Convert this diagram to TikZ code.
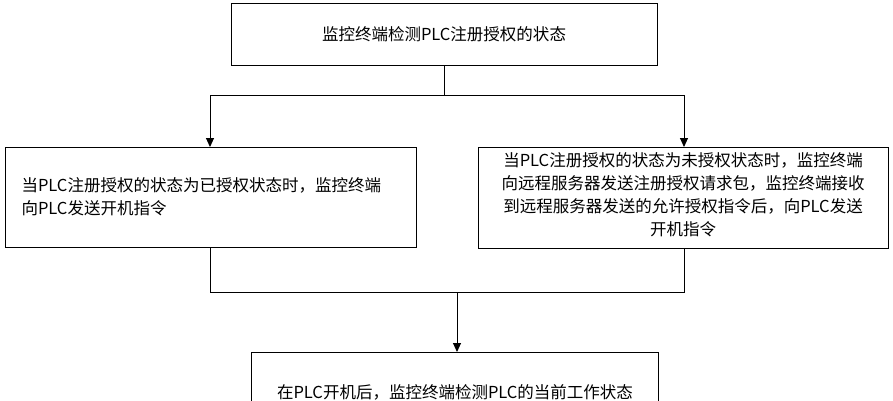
\documentclass[tikz,border=0pt]{standalone}
\usepackage{fontspec}
\setmainfont{Liberation Serif}
\newfontfamily\cjk{Noto Sans CJK SC}
\usetikzlibrary{arrows.meta}
\begin{document}
\begin{tikzpicture}[x=1pt,y=-1pt,
  box/.style={draw,line width=0.8pt,inner sep=0pt},
  txt/.style={font=\cjk\fontsize{16.5}{23}\selectfont,align=center},
  arr/.style={-{Triangle[length=9pt,width=8pt]},line width=1pt},
  ln/.style={line width=0.8pt}]
\clip (0,0) rectangle (893,400);
\fill[white] (0,0) rectangle (893,400);
\draw[box] (231,3) rectangle (657,65);
\node[txt] (top) at (444,34) {监控终端检测PLC注册授权的状态};
\draw[box] (5,147) rectangle (416,247);
\node[txt,align=left,anchor=west] (left) at (18,197) {当PLC注册授权的状态为已授权状态时，监控终端\\向PLC发送开机指令};
\draw[box] (478,147) rectangle (888,248);
\node[txt] (right) at (683,195) {当PLC注册授权的状态为未授权状态时，监控终端\\向远程服务器发送注册授权请求包，监控终端接收\\到远程服务器发送的允许授权指令后，向PLC发送\\开机指令};
\draw[box] (251,352) rectangle (658,420);
\node[txt] (bot) at (455,392) {在PLC开机后，监控终端检测PLC的当前工作状态};
\coordinate (a) at (444,65);
\coordinate (j) at (444,95);
\coordinate (lj) at (210,95);
\coordinate (rj) at (684,95);
\coordinate (lt) at (210,147);
\coordinate (rt) at (684,147);
\draw[ln] (a) -- (j) (lj) -- (rj);
\draw[arr] (lj) -- (lt);
\draw[arr] (rj) -- (rt);
\coordinate (lb) at (210,247);
\coordinate (rb) at (684,248);
\coordinate (lm) at (210,292);
\coordinate (rm) at (684,292);
\coordinate (m) at (457,292);
\coordinate (bt) at (457,352);
\draw[ln] (lb) -- (lm) -- (rm) -- (rb);
\draw[arr] (m) -- (bt);
\end{tikzpicture}
\end{document}
